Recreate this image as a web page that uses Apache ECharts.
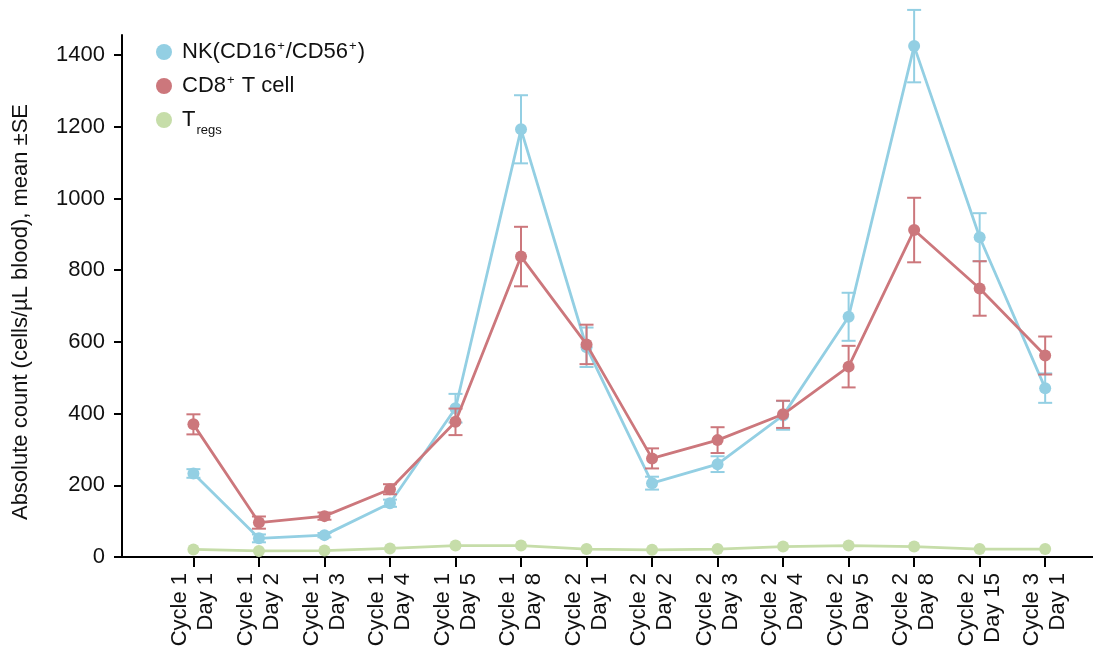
<!DOCTYPE html>
<html>
<head>
<meta charset="utf-8">
<script src="https://cdn.jsdelivr.net/npm/echarts@6/dist/echarts.min.js"></script>
<style>
  html, body { margin: 0; padding: 0; background: #fff; }
  #chart { width: 1093px; height: 660px; }
</style>
</head>
<body>
<div id="chart"></div>
<script>
// Visit time points
const categories = [
  'Cycle 1\nDay 1', 'Cycle 1\nDay 2', 'Cycle 1\nDay 3', 'Cycle 1\nDay 4',
  'Cycle 1\nDay 5', 'Cycle 1\nDay 8', 'Cycle 2\nDay 1', 'Cycle 2\nDay 2',
  'Cycle 2\nDay 3', 'Cycle 2\nDay 4', 'Cycle 2\nDay 5', 'Cycle 2\nDay 8',
  'Cycle 2\nDay 15', 'Cycle 3\nDay 1'
];

// Mean absolute counts (cells/µL blood) and standard errors
const nkMean   = [233, 52, 61, 150, 415, 1193, 585, 206, 259, 395, 670, 1425, 892, 471];
const nkSE     = [12, 11, 6, 10, 40, 95, 55, 18, 22, 40, 67, 101, 67, 41];
const cd8Mean  = [370, 96, 114, 189, 377, 838, 593, 275, 326, 398, 531, 912, 749, 562];
const cd8SE    = [28, 17, 10, 14, 37, 83, 55, 28, 36, 38, 58, 90, 76, 53];
const tregMean = [21, 17, 18, 24, 32, 32, 22, 20, 22, 29, 32, 29, 22, 22];

const yTicks = [0, 200, 400, 600, 800, 1000, 1200, 1400];
const xTicks = categories.map((_, i) => i);

const COLORS = { nk: '#93CFE3', cd8: '#CC777C', treg: '#C6DDA9' };
const FONT = "'Liberation Sans', Arial, sans-serif";

const toPoints = arr => arr.map((v, i) => [i, v]);
const toBars = (mean, se) => mean.map((v, i) => [i, v, se[i]]);

// Vertical error bar with caps, positioned through the grid's coordinate system
function errorBarRenderer(color) {
  return function (params, api) {
    const x = api.value(0), m = api.value(1), e = api.value(2);
    const top = api.coord([x, m + e]);
    const bot = api.coord([x, m - e]);
    const hw = 7;
    const style = { stroke: color, lineWidth: 2 };
    return {
      type: 'group',
      children: [
        { type: 'line', shape: { x1: top[0], y1: top[1], x2: bot[0], y2: bot[1] }, style },
        { type: 'line', shape: { x1: top[0] - hw, y1: top[1], x2: top[0] + hw, y2: top[1] }, style },
        { type: 'line', shape: { x1: bot[0] - hw, y1: bot[1], x2: bot[0] + hw, y2: bot[1] }, style }
      ]
    };
  };
}

function lineSeries(name, data, color, z) {
  return {
    name, type: 'line', data, z,
    symbol: 'circle', symbolSize: 12,
    itemStyle: { color },
    lineStyle: { color, width: 2.8 },
    emphasis: { disabled: true },
    animation: false
  };
}

const chart = echarts.init(document.getElementById('chart'), null, { renderer: 'canvas' });

const txt = { fontFamily: FONT, color: '#111' };

chart.setOption({
  animation: false,
  backgroundColor: '#fff',
  grid: { left: 122, right: 0, top: 35, bottom: 103 },
  legend: {
    orient: 'vertical', left: 151, top: 35,
    icon: 'circle', itemWidth: 16, itemHeight: 16, itemGap: 11,
    data: ['NK', 'CD8', 'Treg'],
    selectedMode: false,
    formatter: function (name) {
      if (name === 'NK') return '{f|NK(CD16}{s|+}{t|/CD56}{s|+}{t|)}';
      if (name === 'CD8') return '{f|CD8}{s|+}{t| T cell}';
      return '{f|T}{b|regs}';
    },
    textStyle: {
      ...txt, fontSize: 22,
      rich: {
        f: { ...txt, fontSize: 22, lineHeight: 24, padding: [0, 0, 0, 5] },
        t: { ...txt, fontSize: 22, lineHeight: 24 },
        s: { ...txt, fontSize: 13, lineHeight: 13, verticalAlign: 'top', padding: [0, 1, 0, 1] },
        b: { ...txt, fontSize: 13, lineHeight: 13, verticalAlign: 'top', padding: [16, 0, 0, 1] }
      }
    }
  },
  xAxis: {
    type: 'value',
    min: -1.09, max: 13.73,
    splitLine: { show: false },
    axisLine: { show: true, onZero: false, lineStyle: { color: '#000', width: 2 } },
    axisTick: { show: true, length: 10, lineStyle: { color: '#000', width: 2 }, customValues: xTicks },
    axisLabel: {
      customValues: xTicks,
      rotate: 90, margin: 16,
      ...txt, fontSize: 22, lineHeight: 26,
      formatter: v => categories[Math.round(v)]
    }
  },
  yAxis: {
    type: 'value',
    min: 0, max: 1456,
    name: 'Absolute count (cells/µL blood), mean ±SE',
    nameLocation: 'middle', nameGap: 90,
    nameTextStyle: { ...txt, fontSize: 22, padding: [0, 32, 0, 0] },
    splitLine: { show: false },
    axisLine: { show: true, onZero: false, lineStyle: { color: '#000', width: 2 } },
    axisTick: { show: true, length: 8, lineStyle: { color: '#000', width: 2 }, customValues: yTicks },
    axisLabel: {
      customValues: yTicks, margin: 17, ...txt, fontSize: 22,
      formatter: v => String(v)
    }
  },
  series: [
    lineSeries('Treg', toPoints(tregMean), COLORS.treg, 2),
    {
      type: 'custom', name: 'NK SE', z: 3, clip: false,
      renderItem: errorBarRenderer(COLORS.nk),
      data: toBars(nkMean, nkSE), silent: true, animation: false
    },
    lineSeries('NK', toPoints(nkMean), COLORS.nk, 4),
    {
      type: 'custom', name: 'CD8 SE', z: 5, clip: false,
      renderItem: errorBarRenderer(COLORS.cd8),
      data: toBars(cd8Mean, cd8SE), silent: true, animation: false
    },
    lineSeries('CD8', toPoints(cd8Mean), COLORS.cd8, 6)
  ]
});
</script>
</body>
</html>
